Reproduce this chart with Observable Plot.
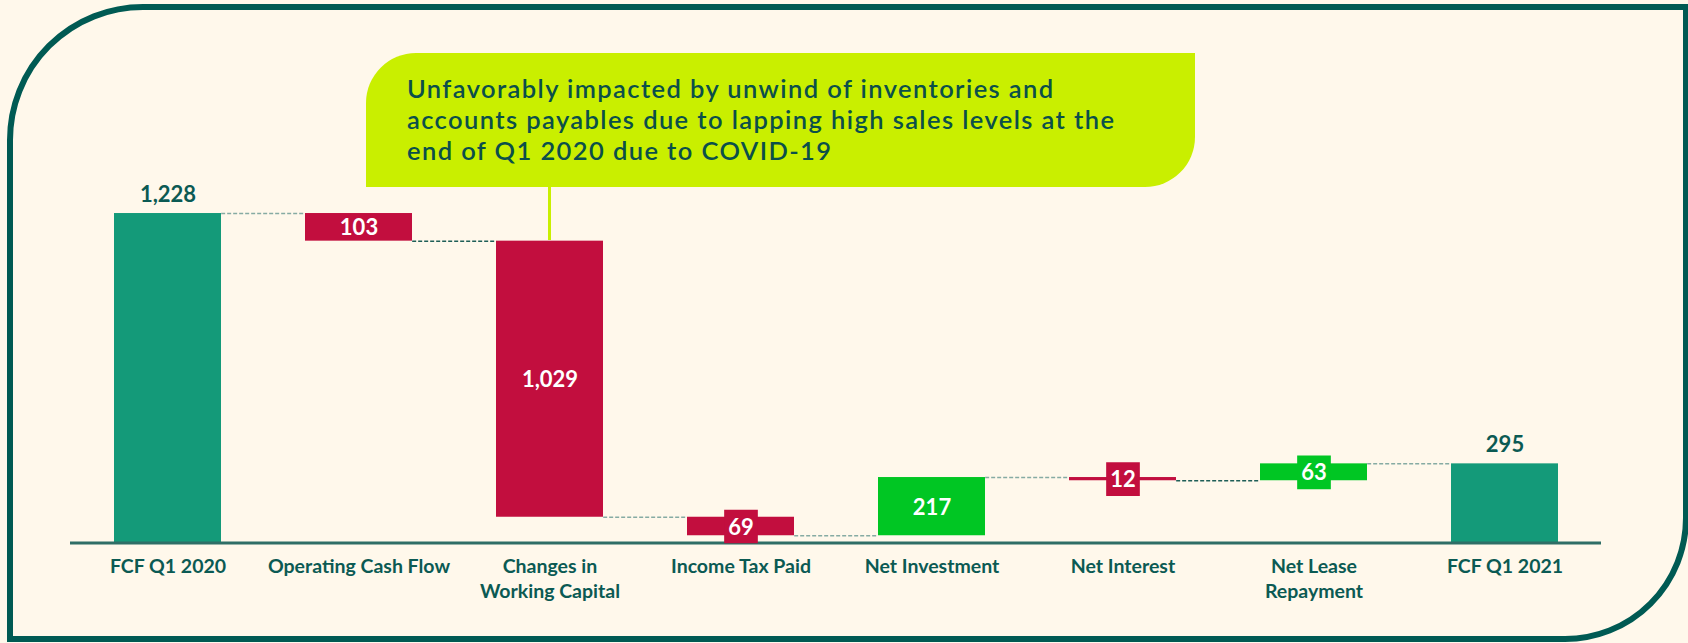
<!DOCTYPE html>
<html>
<head>
<meta charset="utf-8">
<script src="https://cdn.jsdelivr.net/npm/d3@7"></script>
<script src="https://cdn.jsdelivr.net/npm/@observablehq/plot@0.6"></script>
<style>
  html, body { margin: 0; padding: 0; background: #FFF8EB; }
  #wrap { position: relative; width: 1688px; height: 643px; overflow: hidden; background: #FFF8EB; }
  .frame { position: absolute; left: 7px; top: 4px; width: 1682px; height: 638px; box-sizing: border-box;
           border: 6px solid #005A53; border-radius: 136px 0 124px 0; }
  .callout { position: absolute; left: 366px; top: 53px; width: 829px; height: 134px; box-sizing: border-box;
             background: #C9EF00; border-radius: 50px 0 50px 0; padding: 20px 0 0 41px;
             font-family: Lato, sans-serif; font-weight: 600; font-size: 25.5px; letter-spacing: 1.4px;
             line-height: 31.2px; color: #0B4F4A; white-space: nowrap; }
  .stem { position: absolute; left: 548px; top: 187px; width: 2.5px; height: 53px; background: #C9EF00; }
  #chart { position: absolute; left: 0; top: 0; }
</style>
</head>
<body>
<div id="wrap">
  <div class="frame"></div>
  <div class="callout">Unfavorably impacted by unwind of inventories and<br>accounts payables due to lapping high sales levels at the<br>end of Q1 2020 due to COVID-19</div>
  <div class="stem"></div>
  <div id="chart"></div>
</div>
<script>
const categories = ["FCF Q1 2020", "Operating Cash Flow", "Changes in\nWorking Capital", "Income Tax Paid",
                    "Net Investment", "Net Interest", "Net Lease\nRepayment", "FCF Q1 2021"];
const values = [1228, -103, -1029, -69, 217, -12, 63, 295];
const isTotal = [true, false, false, false, false, false, false, true];

const TEAL = "#149A79", RED = "#C20E3E", GREEN = "#00C623", DARK = "#0B5A53";
const LINK_LIGHT = "#86ABA3", LINK_DARK = "#1E5E57";

let run = 0;
const rows = categories.map((c, i) => {
  let y1, y2;
  if (isTotal[i]) { y1 = 0; y2 = values[i]; }
  else { y1 = run; y2 = run + values[i]; }
  run = y2;
  return {cat: c, value: values[i], total: isTotal[i], y1, y2, end: y2, mid: (y1 + y2) / 2};
});
const links = rows.slice(0, -1).map((d, i) => ({from: d.cat, to: rows[i + 1].cat, y: d.end, i}));
const fmt = d3.format(",");
const colorOf = d => d.total ? TEAL : d.value < 0 ? RED : GREEN;

const W = 1688, H = 643, ML = 70, MR = 87, PI = 0.44;
const bw = (W - ML - MR) / categories.length * (1 - PI);

const chart = Plot.plot({
  width: W, height: H,
  marginLeft: ML, marginRight: MR, marginTop: 0, marginBottom: 100.5,
  style: {background: "transparent", fontFamily: "Lato, sans-serif"},
  x: {domain: categories, paddingInner: PI, paddingOuter: PI / 2, label: null},
  y: {domain: [0, 2022], axis: null},
  color: {type: "identity"},
  marks: [
    Plot.ruleY(links, {x1: "from", x2: "to", y: "y", insetLeft: bw, insetRight: bw,
      stroke: d => (d.i === 1 || d.i === 5) ? LINK_DARK : LINK_LIGHT, strokeWidth: 1.5, strokeDasharray: "4,2"}),
    Plot.barY(rows, {x: "cat", y1: "y1", y2: "y2", fill: colorOf}),
    Plot.ruleY([0], {stroke: "#2F6E66", strokeWidth: 3}),
    Plot.dot(rows.filter(d => !d.total && Math.abs(d.value) < 100),
      {x: "cat", y: "mid", symbol: "square", r: 19, fill: colorOf}),
    Plot.text(rows.filter(d => !d.total),
      {x: "cat", y: "mid", text: d => fmt(Math.abs(d.value)), fill: "white", fontSize: 22, fontWeight: "bold", dy: 1}),
    Plot.text(rows.filter(d => d.total),
      {x: "cat", y: "end", text: d => fmt(d.value), fill: DARK, fontSize: 22, fontWeight: "bold", dy: -19}),
    Plot.axisX({tickSize: 0, tickPadding: 13, fontSize: 19.5, fontWeight: "bold", fill: DARK, lineHeight: 1.26, label: null})
  ]
});
document.getElementById("chart").appendChild(chart);
</script>
</body>
</html>
